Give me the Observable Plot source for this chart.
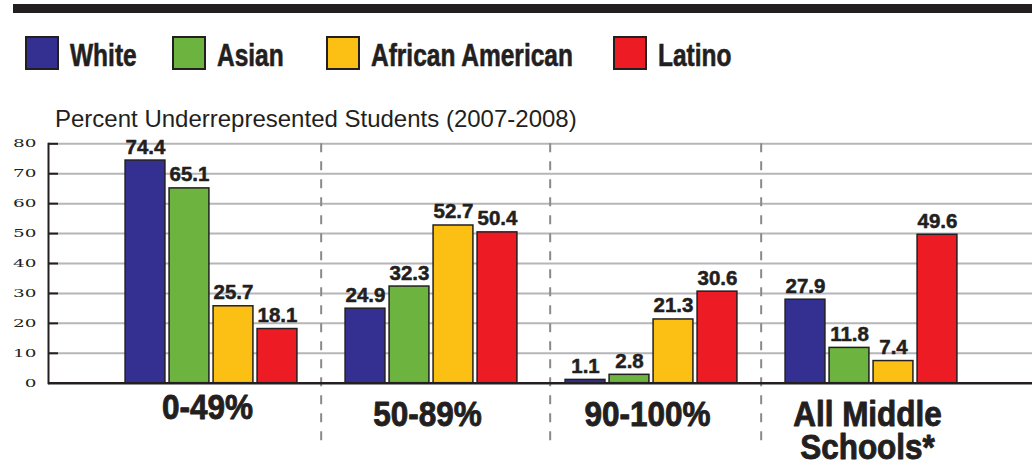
<!DOCTYPE html>
<html>
<head>
<meta charset="utf-8">
<script src="https://cdn.jsdelivr.net/npm/d3@7"></script>
<script src="https://cdn.jsdelivr.net/npm/@observablehq/plot@0.6"></script>
<style>
  html, body { margin: 0; padding: 0; background: #fff; }
  #wrap { position: relative; width: 1032px; height: 465px; overflow: hidden; }
  #wrap svg { position: absolute; left: 0; top: 0; }
  .topbar { position: absolute; left: 13px; top: 4px; width: 1019px; height: 9px; background: #231f20; }
  .sw { position: absolute; top: 36px; width: 34px; height: 34px; box-sizing: border-box; border: 2px solid #231f20; }
  .lt { position: absolute; top: 40px; font-family: "Liberation Sans", Arial, sans-serif; font-weight: bold; font-size: 31px; line-height: 31px; color: #231f20; white-space: nowrap; transform: scaleX(0.79); transform-origin: 0 0; -webkit-text-stroke: 0.6px #231f20; }
  .sub { position: absolute; left: 55px; top: 106.5px; font-family: "Liberation Sans", Arial, sans-serif; font-size: 24px; line-height: 24px; color: #231f20; white-space: nowrap; }
</style>
</head>
<body>
<div id="wrap"></div>
<script>
// ---- data ----
const categories = ["0-49%", "50-89%", "90-100%", "All Middle Schools*"];
const races = ["White", "Asian", "African American", "Latino"];
const white = [74.4, 24.9, 1.1, 27.9];
const asian = [65.1, 32.3, 2.8, 11.8];
const africanAmerican = [25.7, 52.7, 21.3, 7.4];
const latino = [18.1, 50.4, 30.6, 49.6];
const colors = ["#333092", "#6cb33f", "#fcc015", "#ed1c24"];
const yTicks = [0, 10, 20, 30, 40, 50, 60, 70, 80];
const subtitle = "Percent Underrepresented Students (2007-2008)";

const series = [white, asian, africanAmerican, latino];
const rows = [];
races.forEach((r, i) => categories.forEach((c, j) => rows.push({category: c, race: r, value: series[i][j]})));

// ---- layout ----
const W = 1032, H = 465;
const xRange = [100.1, 982.7];
const bw = (xRange[1] - xRange[0]) / categories.length;
const barW = 40.5, barStep = 44;
const ink = "#231f20";
const boldFont = '"Liberation Sans", Arial, sans-serif';

const wrap = document.getElementById("wrap");

// top rule + legend (HTML)
const bar = document.createElement("div"); bar.className = "topbar"; wrap.appendChild(bar);
const swX = [25, 172, 326, 613];
races.forEach((r, i) => {
  const s = document.createElement("div"); s.className = "sw";
  s.style.left = swX[i] + "px"; s.style.background = colors[i]; wrap.appendChild(s);
  const t = document.createElement("div"); t.className = "lt";
  t.style.left = (swX[i] + 44.5) + "px"; t.textContent = r; wrap.appendChild(t);
});

const marks = [
  Plot.ruleY(yTicks.filter(t => t > 0), {stroke: "#b6b6b9", strokeWidth: 2}),
  Plot.ruleY(yTicks.filter(t => t > 0), {stroke: ink, strokeWidth: 2, insetRight: W - 48 - 10}),
  Plot.ruleX([categories[1], categories[3]], {x: d => d, dx: -bw / 2, stroke: "#8a8a8d", strokeWidth: 2, strokeDasharray: "9,9", insetBottom: -60}),
  Plot.ruleX([categories[2]], {x: d => d, dx: -bw / 2 + 9, stroke: "#8a8a8d", strokeWidth: 2, strokeDasharray: "9,9", insetBottom: -60}),
];
races.forEach((r, i) => {
  const d = rows.filter(row => row.race === r);
  marks.push(Plot.barY(d, {x: "category", y: "value", fill: colors[i], stroke: ink, strokeWidth: 1.5,
    insetLeft: (bw - barW) / 2, insetRight: (bw - barW) / 2, dx: (i - 1.5) * barStep}));
  marks.push(Plot.text(d, {x: "category", y: "value", text: v => v.value.toFixed(1), dx: (i - 1.5) * barStep, dy: -7,
    lineAnchor: "bottom", fontSize: 19.5, fontWeight: "bold", fontFamily: boldFont, fill: ink,
    stroke: ink, strokeWidth: 0.5, className: "vlab"}));
});
marks.push(
  Plot.ruleY([0], {stroke: ink, strokeWidth: 2.5}),
  Plot.frame({anchor: "left", stroke: ink, strokeWidth: 2}),
  Plot.axisY(yTicks, {tickSize: 0, tickPadding: 12, fontFamily: '"DejaVu Serif", "Liberation Serif", serif', fontSize: 11.5, fill: ink, label: null}),
  Plot.text(categories, {filter: d => d === categories[0], x: d => d, text: d => d, frameAnchor: "bottom", lineAnchor: "top", dy: 12.5, dx: -4,
    fontSize: 35, fontWeight: "bold", fontFamily: boldFont, fill: ink, stroke: ink, strokeWidth: 0.9, lineWidth: 6, lineHeight: 0.95, className: "clab"}),
  Plot.text(categories, {filter: d => d !== categories[0], x: d => d, text: d => d, frameAnchor: "bottom", lineAnchor: "top", dy: 19, dx: -4,
    fontSize: 35, fontWeight: "bold", fontFamily: boldFont, fill: ink, stroke: ink, strokeWidth: 0.9, lineWidth: 6, lineHeight: 0.95, className: "clab"})
);

const chart = Plot.plot({
  width: W, height: H,
  marginTop: 143.3, marginBottom: H - 382.7, marginLeft: 48, marginRight: 0,
  style: {background: "transparent", overflow: "visible"},
  x: {domain: categories, range: xRange, padding: 0, axis: null},
  y: {domain: [0, 80], axis: null},
  marks
});
wrap.appendChild(chart);

// subtitle above chart
const sub = document.createElement("div"); sub.className = "sub"; sub.textContent = subtitle; wrap.appendChild(sub);

// approximate the condensed black face and the wide serif numerals of the reference
const squeeze = (sel, k) => d3.select(chart).selectAll(sel).attr("transform", function() { return (this.getAttribute("transform") || "") + ` scale(${k},1)`; });
squeeze(".vlab text", 1.05);
squeeze(".clab text", 0.9);
squeeze("g[aria-label='y-axis tick label'] text", 1.6);
</script>
</body>
</html>
